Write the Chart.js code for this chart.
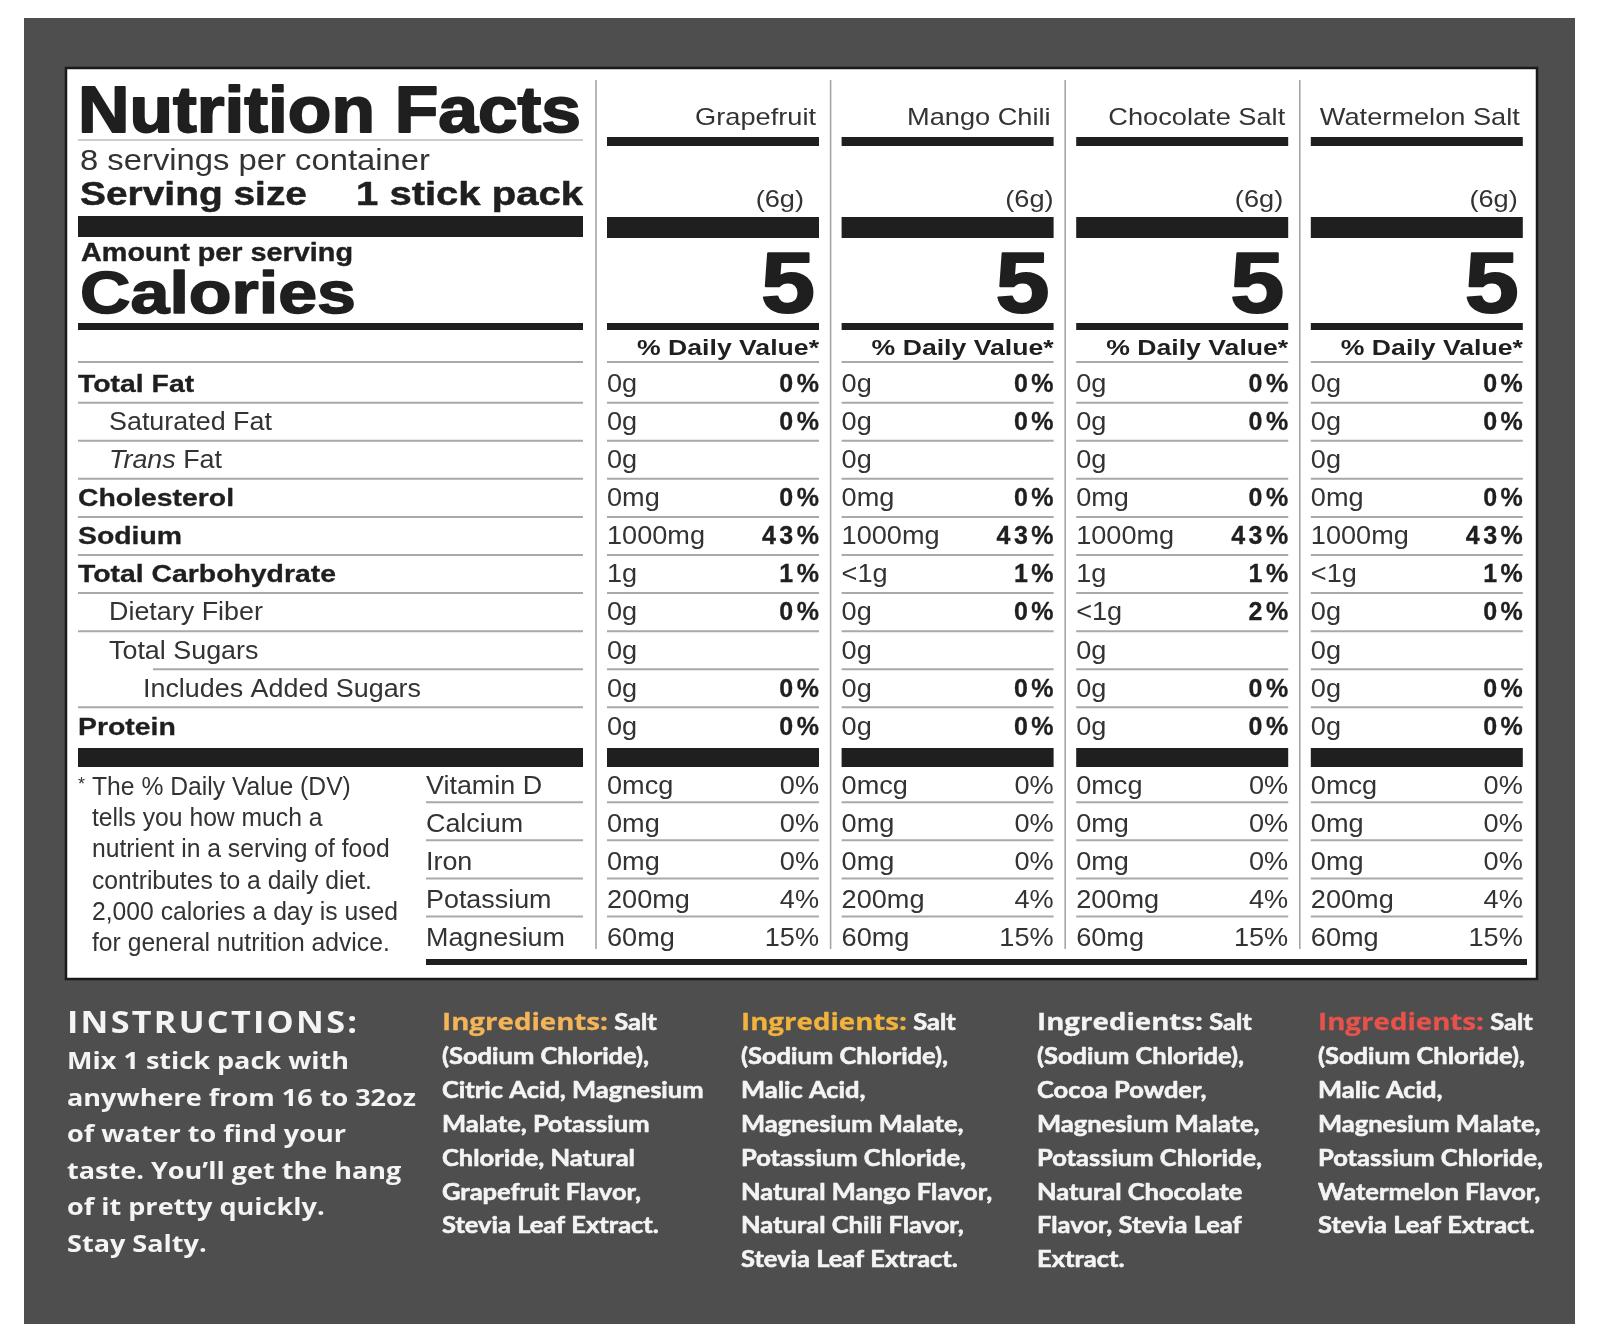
<!DOCTYPE html>
<html><head><meta charset="utf-8">
<script src="https://cdn.jsdelivr.net/npm/chart.js@4.4.1/dist/chart.umd.min.js"></script>
<style>html,body{margin:0;padding:0;background:#fff;overflow:hidden}canvas{display:block}</style>
</head><body><canvas id="c" width="1600" height="1337"></canvas>
<script>
// ---------------- DATA ----------------
const products = ["Grapefruit", "Mango Chili", "Chocolate Salt", "Watermelon Salt"];
const servingWeights = ["(6g)", "(6g)", "(6g)", "(6g)"];
const calories = [5, 5, 5, 5];
const servingsText = "8 servings per container";
const servingSizeText = "1 stick pack";
const nutrientLabels = ["Total Fat", "Saturated Fat", "Trans Fat", "Cholesterol", "Sodium",
  "Total Carbohydrate", "Dietary Fiber", "Total Sugars", "Includes Added Sugars", "Protein"];
const nutrientIndent = [0, 1, 1, 0, 0, 0, 1, 1, 2, 0];
const grapefruitAmounts = ["0g", "0g", "0g", "0mg", "1000mg", "1g", "0g", "0g", "0g", "0g"];
const grapefruitDV = ["0%", "0%", null, "0%", "43%", "1%", "0%", null, "0%", "0%"];
const mangoChiliAmounts = ["0g", "0g", "0g", "0mg", "1000mg", "<1g", "0g", "0g", "0g", "0g"];
const mangoChiliDV = ["0%", "0%", null, "0%", "43%", "1%", "0%", null, "0%", "0%"];
const chocolateSaltAmounts = ["0g", "0g", "0g", "0mg", "1000mg", "1g", "<1g", "0g", "0g", "0g"];
const chocolateSaltDV = ["0%", "0%", null, "0%", "43%", "1%", "2%", null, "0%", "0%"];
const watermelonSaltAmounts = ["0g", "0g", "0g", "0mg", "1000mg", "<1g", "0g", "0g", "0g", "0g"];
const watermelonSaltDV = ["0%", "0%", null, "0%", "43%", "1%", "0%", null, "0%", "0%"];
const vitaminLabels = ["Vitamin D", "Calcium", "Iron", "Potassium", "Magnesium"];
const vitaminAmounts = ["0mcg", "0mg", "0mg", "200mg", "60mg"];
const vitaminDV = ["0%", "0%", "0%", "4%", "15%"];
const footnoteLines = ["The % Daily Value (DV)", "tells you how much a", "nutrient in a serving of food",
  "contributes to a daily diet.", "2,000 calories a day is used", "for general nutrition advice."];
const instructionsTitle = "INSTRUCTIONS:";
const instructionsLines = ["Mix 1 stick pack with", "anywhere from 16 to 32oz", "of water to find your",
  "taste. You\u2019ll get the hang", "of it pretty quickly.", "Stay Salty."];
const ingredientsLabel = "Ingredients:";
const grapefruitIngredients = ["Salt", "(Sodium Chloride),", "Citric Acid, Magnesium", "Malate, Potassium",
  "Chloride, Natural", "Grapefruit Flavor,", "Stevia Leaf Extract."];
const mangoChiliIngredients = ["Salt", "(Sodium Chloride),", "Malic Acid,", "Magnesium Malate,",
  "Potassium Chloride,", "Natural Mango Flavor,", "Natural Chili Flavor,", "Stevia Leaf Extract."];
const chocolateSaltIngredients = ["Salt", "(Sodium Chloride),", "Cocoa Powder,", "Magnesium Malate,",
  "Potassium Chloride,", "Natural Chocolate", "Flavor, Stevia Leaf", "Extract."];
const watermelonSaltIngredients = ["Salt", "(Sodium Chloride),", "Malic Acid,", "Magnesium Malate,",
  "Potassium Chloride,", "Watermelon Flavor,", "Stevia Leaf Extract."];

const productAmounts = [grapefruitAmounts, mangoChiliAmounts, chocolateSaltAmounts, watermelonSaltAmounts];
const productDV = [grapefruitDV, mangoChiliDV, chocolateSaltDV, watermelonSaltDV];
const productIngredients = [grapefruitIngredients, mangoChiliIngredients, chocolateSaltIngredients, watermelonSaltIngredients];

// ---------------- STYLE / LAYOUT ----------------
const FT = '"Liberation Sans", Arial, Helvetica, sans-serif';
const FB1 = '"Open Sans", "Liberation Sans", sans-serif';
const FB2 = 'Lato, "Open Sans", sans-serif';
const INK = '#1f1f1f', INK2 = '#333333', RULE = '#a9a9a9', BG = '#4e4e4e', WH = '#f4f4f4';
const ingredientColors = ['#f4b559', '#f2b33d', '#f4f4f4', '#e8524b'];
const L = {
  W: 1600, H: 1337,
  leftX: 78, leftR: 583,
  colLeft0: 607, colPitch: 234.6, colW: 212,
  base0: 392, rowPitch: 38.08, vitStart: 10.55,
  ingX: [442, 741, 1037, 1318]
};

function txt(ctx, s, x, y, o) {
  ctx.save();
  ctx.font = `${o.style || 'normal'} ${o.weight || 400} ${o.size}px ${o.family || FT}`;
  ctx.fillStyle = o.color || INK;
  ctx.textBaseline = 'alphabetic';
  ctx.textAlign = 'left';
  const ls = o.ls || 0;
  if ('letterSpacing' in ctx) ctx.letterSpacing = ls + 'px';
  let w = ctx.measureText(s).width - ls;
  let sx = o.sx || 1;
  if (o.fitW) sx = o.fitW / w;
  ctx.translate(x, y);
  ctx.scale(sx, 1);
  let dx = 0;
  if (o.align === 'right') dx = -w; else if (o.align === 'center') dx = -w / 2;
  ctx.fillText(s, dx, 0);
  if (o.stroke) {
    ctx.lineWidth = o.stroke; ctx.strokeStyle = ctx.fillStyle; ctx.lineJoin = 'round';
    ctx.strokeText(s, dx, 0);
  }
  ctx.restore();
  return w * sx;
}
function scaleFor(ctx, s, target, o) {
  ctx.save();
  ctx.font = `${o.style || 'normal'} ${o.weight || 400} ${o.size}px ${o.family || FT}`;
  const ls = o.ls || 0;
  if ('letterSpacing' in ctx) ctx.letterSpacing = ls + 'px';
  const w = ctx.measureText(s).width - ls;
  ctx.restore();
  return target / w;
}
function bar(ctx, x, y, w, h, c) { ctx.fillStyle = c || INK; ctx.fillRect(x, y, w, h); }
function hline(ctx, x1, x2, y, lw, c) {
  ctx.save(); ctx.strokeStyle = c || RULE; ctx.lineWidth = lw || 2;
  ctx.beginPath(); ctx.moveTo(x1, y); ctx.lineTo(x2, y); ctx.stroke(); ctx.restore();
}
function vline(ctx, x, y1, y2, lw, c) {
  ctx.save(); ctx.strokeStyle = c || RULE; ctx.lineWidth = lw || 1.5;
  ctx.beginPath(); ctx.moveTo(x, y1); ctx.lineTo(x, y2); ctx.stroke(); ctx.restore();
}

const F = {
  boldLabel: { weight: 700, size: 24 },
  regLabel: { weight: 400, size: 25 },
  amount: { weight: 400, size: 25 },
  dvBold: { weight: 700, size: 25, ls: 3.5 },
  foot: { weight: 400, size: 25 },
  instr: { weight: 700, size: 23.5, family: FB1 },
  ingr: { weight: 700, size: 23, family: FB2, stroke: 0.6 },
  ingrLabel: { weight: 700, size: 23, family: FB1, stroke: 0.3 }
};

const nfPlugin = {
  id: 'nf',
  beforeDraw(chart) {
    const ctx = chart.ctx, xs = chart.scales.x, ys = chart.scales.y;
    const colL = j => xs.getPixelForValue(j);
    const colR = j => xs.getPixelForValue(j) + L.colW;
    const rowY = k => ys.getPixelForValue(k);
    ctx.save();
    // backgrounds
    bar(ctx, 0, 0, L.W, L.H, '#ffffff');
    bar(ctx, 24, 18, 1551, 1306, BG);
    bar(ctx, 66, 68, 1471, 911, '#ffffff');
    ctx.strokeStyle = '#1a1a1a'; ctx.lineWidth = 2.5; ctx.strokeRect(66, 68, 1471, 911);

    // column separators
    products.forEach((p, j) => vline(ctx, colL(j) - 11, 80, 949, 1.6, '#a5a5a5'));

    // ---- left header ----
    txt(ctx, 'Nutrition Facts', L.leftX, 132, { weight: 700, size: 64, stroke: 1.8, fitW: 503, color: INK });
    hline(ctx, L.leftX, L.leftR, 140, 1.2, '#9a9a9a');
    txt(ctx, servingsText, 80, 170, { weight: 400, size: 30, fitW: 350, color: INK2 });
    txt(ctx, 'Serving size', 80, 205, { weight: 700, size: 33, fitW: 227, stroke: 0.5 });
    txt(ctx, servingSizeText, L.leftR, 205, { weight: 700, size: 33, fitW: 227, stroke: 0.5, align: 'right' });
    bar(ctx, L.leftX, 216, L.leftR - L.leftX, 21);
    txt(ctx, 'Amount per serving', 81, 261, { weight: 700, size: 25, fitW: 272, stroke: 0.4 });
    txt(ctx, 'Calories', 80, 313, { weight: 700, size: 59, fitW: 276, stroke: 1.5 });
    bar(ctx, L.leftX, 323, L.leftR - L.leftX, 7);
    hline(ctx, L.leftX, L.leftR, 362, 2);

    // ---- column headers ----
    const nameSx = scaleFor(ctx, 'Watermelon Salt', 200, { size: 24 });
    const wOff = [-15, 0, -5, -5];
    products.forEach((p, j) => {
      txt(ctx, p, colR(j) - 3, 125, { size: 24, sx: nameSx, align: 'right', color: INK2 });
      bar(ctx, colL(j), 137, L.colW, 9);
      txt(ctx, servingWeights[j], colR(j) + wOff[j], 207, { size: 24, sx: nameSx, align: 'right', color: INK2 });
      bar(ctx, colL(j), 217, L.colW, 21);
      txt(ctx, String(calories[j]), colR(j) - 4, 312, { weight: 700, size: 85, stroke: 2, fitW: 54, align: 'right' });
      bar(ctx, colL(j), 323, L.colW, 7);
      txt(ctx, '% Daily Value*', colR(j), 355, { weight: 700, size: 22, fitW: 182, align: 'right' });
      hline(ctx, colL(j), colR(j), 362, 2);
      bar(ctx, colL(j), 748, L.colW, 19);
    });
    bar(ctx, L.leftX, 748, L.leftR - L.leftX, 19);
    bar(ctx, 426, 959, 1101, 6);

    // ---- row rules ----
    nutrientLabels.forEach((lab, k) => {
      if (k === nutrientLabels.length - 1) return;
      const y = rowY(k) + 10.7;
      hline(ctx, k === 7 ? 153 : L.leftX, L.leftR, y, 2);
      products.forEach((p, j) => hline(ctx, colL(j), colR(j), y, 2));
    });
    vitaminLabels.forEach((lab, i) => {
      if (i === vitaminLabels.length - 1) return;
      const y = rowY(L.vitStart + i) + 8.5;
      hline(ctx, 426, L.leftR, y, 2);
      products.forEach((p, j) => hline(ctx, colL(j), colR(j), y, 2));
    });

    // ---- row labels ----
    const bSx = scaleFor(ctx, 'Total Carbohydrate', 258, F.boldLabel);
    const rSx = scaleFor(ctx, 'Includes Added Sugars', 278, F.regLabel);
    const indentX = [L.leftX, 109, 143];
    nutrientLabels.forEach((lab, k) => {
      const y = rowY(k);
      const x = indentX[nutrientIndent[k]];
      if (nutrientIndent[k] === 0) {
        txt(ctx, lab, x, y, Object.assign({ sx: bSx, stroke: 0.3 }, F.boldLabel));
      } else if (lab.indexOf('Trans ') === 0) {
        const w = txt(ctx, 'Trans', x, y, Object.assign({ sx: rSx, style: 'italic', color: INK2 }, F.regLabel));
        txt(ctx, lab.slice(5), x + w, y, Object.assign({ sx: rSx, color: INK2 }, F.regLabel));
      } else {
        txt(ctx, lab, x, y, Object.assign({ sx: rSx, color: INK2 }, F.regLabel));
      }
    });
    vitaminLabels.forEach((lab, i) => {
      txt(ctx, lab, 426, rowY(L.vitStart + i), Object.assign({ sx: rSx, color: INK2 }, F.regLabel));
    });

    // ---- footnote ----
    const fSx = scaleFor(ctx, '2,000 calories a day is used', 306, F.foot);
    txt(ctx, '*', 78, 790, { size: 18, color: INK2 });
    footnoteLines.forEach((s, i) => {
      txt(ctx, s, 92, 795 + i * 31.2, Object.assign({ sx: fSx, color: INK2 }, F.foot));
    });

    // ---- bottom: instructions ----
    txt(ctx, instructionsTitle, 67, 1033, { weight: 700, size: 30, family: FB1, ls: 2, fitW: 290, color: WH });
    const iSx = scaleFor(ctx, 'anywhere from 16 to 32oz', 349, F.instr);
    instructionsLines.forEach((s, i) => {
      txt(ctx, s, 67, 1069 + i * 36.6, Object.assign({ sx: iSx, color: WH }, F.instr));
    });

    // ---- bottom: ingredients ----
    const gSx = scaleFor(ctx, 'Potassium Chloride,', 225, F.ingr);
    const lSx = scaleFor(ctx, ingredientsLabel, 166, F.ingrLabel);
    productIngredients.forEach((lines, j) => {
      const x0 = L.ingX[j];
      lines.forEach((s, i) => {
        const y = 1030 + i * 33.9;
        if (i === 0) {
          const w = txt(ctx, ingredientsLabel, x0, y, Object.assign({ sx: lSx, color: ingredientColors[j] }, F.ingrLabel));
          txt(ctx, ' ' + s, x0 + w, y, Object.assign({ sx: gSx, color: WH }, F.ingr));
        } else {
          txt(ctx, s, x0, y, Object.assign({ sx: gSx, color: WH }, F.ingr));
        }
      });
    });
    ctx.restore();
  },
  afterDatasetsDraw(chart) {
    const ctx = chart.ctx;
    const aSx = scaleFor(ctx, '1000mg', 98, F.amount);
    chart.data.datasets.forEach((ds, j) => {
      const meta = chart.getDatasetMeta(j);
      meta.data.forEach((el, idx) => {
        const d = ds.data[idx];
        const x = el.x, y = el.y;
        txt(ctx, d.amount, x, y, Object.assign({ sx: aSx, color: INK2 }, F.amount));
        if (d.dv) {
          if (d.vit) txt(ctx, d.dv, x + L.colW, y, Object.assign({ sx: aSx, align: 'right', color: INK2 }, F.amount));
          else txt(ctx, d.dv, x + L.colW, y, Object.assign({ align: 'right', color: INK, stroke: 0.3 }, F.dvBold));
        }
      });
    });
  }
};

function buildDatasets() {
  return products.map((p, j) => {
    const pts = nutrientLabels.map((lab, k) => ({ x: j, y: k, amount: productAmounts[j][k], dv: productDV[j][k], vit: false }));
    vitaminLabels.forEach((lab, i) => pts.push({ x: j, y: L.vitStart + i, amount: vitaminAmounts[i], dv: vitaminDV[i], vit: true }));
    return { label: p, data: pts, pointRadius: 0, pointHoverRadius: 0, showLine: false };
  });
}

function make() {
  new Chart(document.getElementById('c'), {
    type: 'scatter',
    data: { datasets: buildDatasets() },
    options: {
      responsive: false, animation: false, events: [],
      layout: { padding: 0 },
      plugins: { legend: { display: false }, tooltip: { enabled: false } },
      scales: {
        x: { type: 'linear', display: false, min: -L.colLeft0 / L.colPitch, max: (L.W - L.colLeft0) / L.colPitch },
        y: { type: 'linear', display: false, reverse: true, min: -L.base0 / L.rowPitch, max: (L.H - L.base0) / L.rowPitch }
      }
    },
    plugins: [nfPlugin]
  });
}
const fontLoads = ['700 20px "Liberation Sans"', '400 20px "Liberation Sans"', 'italic 400 20px "Liberation Sans"',
  '700 20px "Open Sans"', '700 20px Lato'].map(f => document.fonts.load(f).catch(() => null));
Promise.all(fontLoads).then(make, make);
</script>
</body></html>
